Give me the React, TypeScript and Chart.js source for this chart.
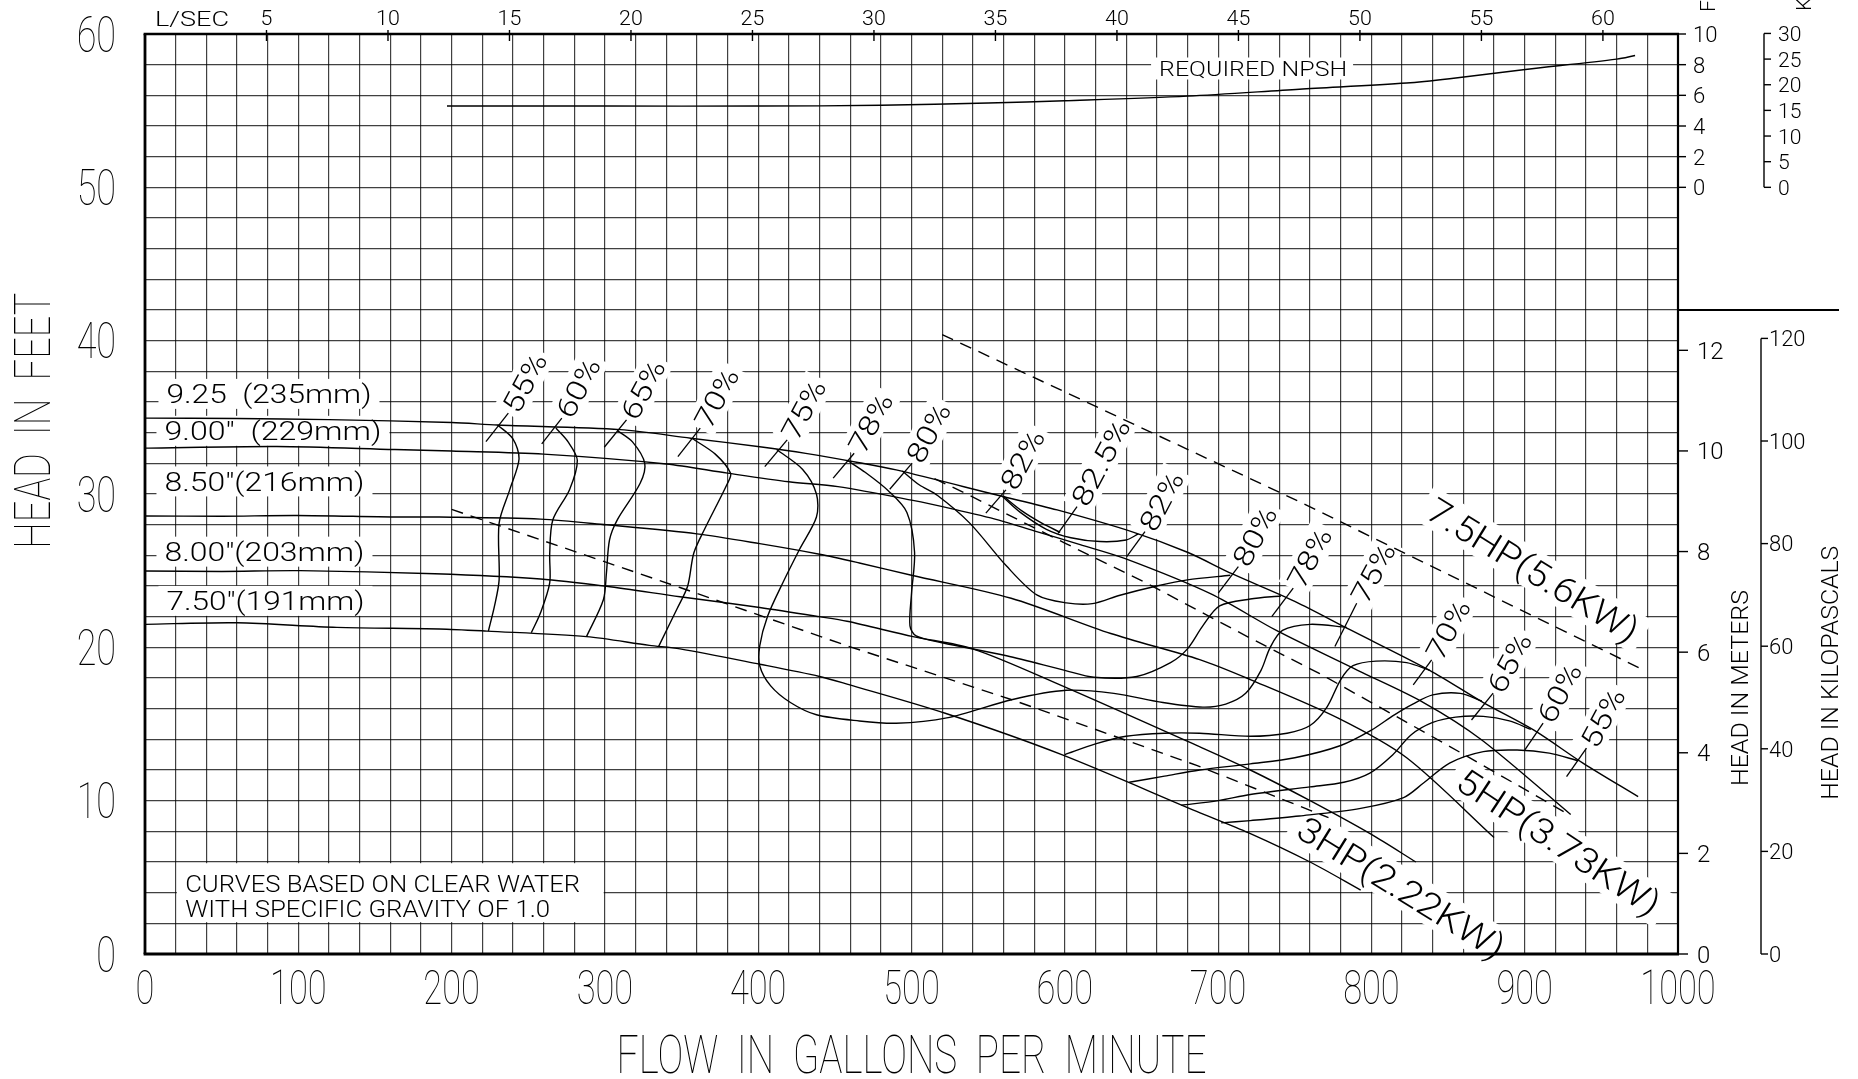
import React, { useEffect, useRef } from "react";
import { Chart, registerables } from "chart.js";

Chart.register(...registerables);

type Pt = [number, number];

const W = 1858;
const H = 1079;
const PLOT_LEFT = 145;
const PLOT_TOP = 34;
const PLOT_RIGHT = 1678;
const PLOT_BOTTOM = 954;

const GPM_PER_LPS = 15.8503;
const FT_PER_M = 3.28084;
const KPA_PER_FT = 2.98898;

// ---- tick labels ----
const FLOW_TICKS = [0, 100, 200, 300, 400, 500, 600, 700, 800, 900, 1000];
const HEAD_TICKS = [0, 10, 20, 30, 40, 50, 60];
const LPS_TICKS = [5, 10, 15, 20, 25, 30, 35, 40, 45, 50, 55, 60];
const METER_TICKS = [0, 2, 4, 6, 8, 10, 12];
const KPA_TICKS = [0, 20, 40, 60, 80, 100, 120];
const NPSH_FT_TICKS = [0, 2, 4, 6, 8, 10];
const NPSH_KPA_TICKS = [0, 5, 10, 15, 20, 25, 30];

// ---- impeller head curves (gpm, ft) ----
const IMP_925: Pt[] = [[0, 34.95], [60, 34.92], [120, 34.85], [200, 34.66], [230, 34.5], [310, 34.2], [356, 33.64], [401, 33.08], [431, 32.65], [466, 32.04], [490, 31.57], [557, 29.9], [595, 28.96], [645, 27.5], [680, 26.2], [709, 24.8], [750, 23.0], [786, 21.15], [838, 18.5], [873, 16.4], [906, 14.6], [938, 12.45], [974, 10.26]];
const IMP_900: Pt[] = [[0, 32.99], [86, 33.1], [163, 32.9], [200, 32.8], [260, 32.6], [340, 31.96], [380, 31.36], [420, 30.8], [452, 30.48], [500, 29.6], [528, 29.0], [557, 28.3], [580, 27.6], [610, 26.7], [639, 25.8], [695, 23.5], [738, 21.1], [791, 18.5], [834, 16.4], [872, 13.96], [930, 9.1]];
const IMP_850: Pt[] = [[0, 28.57], [50, 28.55], [99, 28.6], [163, 28.5], [192, 28.5], [258, 28.36], [301, 27.99], [360, 27.4], [401, 26.76], [440, 26.07], [466, 25.5], [500, 24.7], [565, 23.2], [630, 20.9], [688, 19.2], [721, 17.9], [778, 15.4], [823, 12.8], [880, 7.6]];
const IMP_800: Pt[] = [[0, 24.98], [50, 24.95], [101, 25.0], [189, 24.8], [258, 24.46], [301, 23.98], [349, 23.3], [401, 22.6], [440, 22.0], [458, 21.7], [501, 20.7], [540, 19.9], [598, 17.5], [686, 13.6], [721, 12.0], [760, 10.0], [800, 7.8], [829, 6.0]];
const IMP_750: Pt[] = [[0, 21.5], [60, 21.6], [125, 21.3], [192, 21.2], [223, 21.06], [288, 20.7], [329, 20.13], [349, 19.9], [401, 18.9], [440, 18.1], [458, 17.6], [522, 15.7], [598, 13.0], [686, 9.3], [720, 7.9], [760, 6.0], [793, 4.17]];

// ---- efficiency contours (gpm, ft) ----
const EFF_55_L: Pt[] = [[230, 34.5], [240, 33.6], [244, 32.3], [238, 30.3], [231, 28.1], [231, 24.4], [228, 22.7], [224, 21.06]];
const EFF_60_L: Pt[] = [[268, 34.3], [276, 33.4], [282, 32.2], [277, 30.3], [266, 28.3], [264, 26.1], [264, 24.2], [258, 22.25], [252, 20.95]];
const EFF_65_L: Pt[] = [[308, 34.15], [318, 33.4], [326, 32.0], [323, 30.7], [308, 28.3], [303, 27.0], [301, 24.85], [299, 23.1], [288, 20.7]];
const EFF_70_L: Pt[] = [[357, 33.62], [372, 32.6], [382, 31.35], [380, 30.7], [365, 27.7], [358, 26.15], [354, 24.0], [347, 22.5], [335, 20.05]];
const EFF_75: Pt[] = [[412, 32.9], [429, 31.6], [438, 30.0], [438, 28.5], [427, 26.4], [416, 24.2], [406, 22.0], [401, 20.1], [401, 18.8], [408, 17.5], [421, 16.4], [438, 15.6], [466, 15.2], [490, 15.05], [523, 15.4], [566, 16.6], [601, 17.2], [632, 17.0], [664, 16.4], [690, 16.1], [705, 16.3], [718, 17.0], [728, 18.5], [734, 20.0], [742, 21.1], [760, 21.5], [784, 21.3]];
const EFF_78: Pt[] = [[458, 32.2], [470, 31.4], [485, 30.2], [497, 28.8], [502, 26.2], [500, 23.5], [499, 21.4], [503, 20.75], [520, 20.3], [562, 19.45], [600, 18.5], [619, 18.05], [647, 18.1], [669, 19.0], [680, 19.9], [690, 21.4], [701, 22.7], [721, 23.15], [741, 23.35]];
const EFF_80: Pt[] = [[494, 31.5], [505, 30.6], [517, 29.9], [538, 28.1], [562, 25.3], [582, 23.4], [601, 22.9], [618, 22.85], [636, 23.4], [660, 24.0], [680, 24.4], [708, 24.7]];
const EFF_82: Pt[] = [[559, 29.87], [571, 28.8], [588, 27.7], [604, 27.15], [623, 26.9], [640, 27.0], [648, 27.4]];
const EFF_825: Pt[] = [[560, 29.85], [572, 28.9], [585, 28.1], [597, 27.5]];
const EFF_70_R: Pt[] = [[600, 13.0], [620, 13.7], [640, 14.2], [665, 14.4], [688, 14.4], [721, 14.2], [745, 14.4], [760, 14.9], [771, 16.1], [780, 17.9], [788, 18.8], [803, 19.1], [823, 19.0], [838, 18.5]];
const EFF_65_R: Pt[] = [[642, 11.2], [665, 11.6], [688, 12.0], [721, 12.4], [750, 12.8], [780, 13.6], [800, 14.6], [815, 15.6], [827, 16.3], [840, 16.9], [858, 17.0], [872, 16.5]];
const EFF_60_R: Pt[] = [[676, 9.7], [700, 10.0], [721, 10.4], [760, 10.9], [782, 11.2], [799, 11.8], [814, 13.0], [826, 14.3], [840, 15.1], [855, 15.45], [873, 15.5], [890, 15.2], [904, 14.65]];
const EFF_55_R: Pt[] = [[702, 8.55], [721, 8.7], [753, 9.0], [793, 9.5], [821, 10.2], [834, 11.15], [851, 12.45], [873, 13.2], [895, 13.3], [916, 13.1], [935, 12.6]];

// ---- horsepower lines (gpm, ft) ----
const HP_3: Pt[] = [[200, 29.0], [349, 23.9], [458, 20.1], [565, 16.6], [686, 12.3], [772, 8.9]];
const HP_5: Pt[] = [[515, 31.0], [534, 30.1], [600, 26.8], [653, 24.2], [721, 20.6], [766, 18.3], [850, 13.6], [927, 9.2]];
const HP_75: Pt[] = [[520, 40.4], [753, 29.5], [976, 18.6]];

// ---- required NPSH (gpm, NPSH ft) ----
const NPSH_REQ: Pt[] = [[197, 5.3], [300, 5.3], [400, 5.3], [480, 5.35], [550, 5.5], [600, 5.65], [680, 5.95], [753, 6.4], [823, 6.8], [851, 7.08], [899, 7.67], [960, 8.36], [972, 8.6]];

const CURVES: { pts: Pt[]; dash?: boolean; axis?: string }[] = [
  { pts: IMP_925 }, { pts: IMP_900 }, { pts: IMP_850 }, { pts: IMP_800 }, { pts: IMP_750 },
  { pts: EFF_55_L }, { pts: EFF_60_L }, { pts: EFF_65_L }, { pts: EFF_70_L },
  { pts: EFF_75 }, { pts: EFF_78 }, { pts: EFF_80 }, { pts: EFF_82 }, { pts: EFF_825 },
  { pts: EFF_70_R }, { pts: EFF_65_R }, { pts: EFF_60_R }, { pts: EFF_55_R },
  { pts: HP_3, dash: true }, { pts: HP_5, dash: true }, { pts: HP_75, dash: true },
  { pts: NPSH_REQ, axis: "yN" },
];

// ---- annotations ----
const IMP_LABELS = [
  { t: "9.25  (235mm)", gpm: 14.0, ft: 36.53, w: 205 },
  { t: '9.00"  (229mm)', gpm: 12.7, ft: 34.12, w: 217 },
  { t: '8.50"(216mm)', gpm: 12.7, ft: 30.82, w: 200 },
  { t: '8.00"(203mm)', gpm: 12.7, ft: 26.24, w: 200 },
  { t: '7.50"(191mm)', gpm: 14.0, ft: 23.03, w: 198 },
];

const EFF_LABELS: { t: string; a: Pt; b: Pt }[] = [
  { t: "55%", a: [222.4, 33.42], b: [237.0, 35.27] },
  { t: "60%", a: [258.8, 33.27], b: [271.9, 34.95] },
  { t: "65%", a: [299.6, 33.05], b: [314.1, 34.83] },
  { t: "70%", a: [347.6, 32.44], b: [362.2, 34.29] },
  { t: "75%", a: [404.3, 31.79], b: [418.9, 33.53] },
  { t: "78%", a: [448.9, 31.03], b: [462.6, 32.66] },
  { t: "80%", a: [485.8, 30.31], b: [500.4, 32.01] },
  { t: "82%", a: [548.5, 28.75], b: [561.6, 30.27] },
  { t: "82.5%", a: [595.6, 27.44], b: [608.0, 29.18] },
  { t: "82%", a: [640.4, 25.92], b: [652.3, 27.55] },
  { t: "80%", a: [700.1, 23.53], b: [713.2, 25.26] },
  { t: "78%", a: [735.0, 22.0], b: [749.0, 23.86] },
  { t: "75%", a: [776.2, 20.05], b: [790.4, 22.88] },
  { t: "70%", a: [827.3, 17.55], b: [839.3, 19.18] },
  { t: "65%", a: [865.3, 15.26], b: [879.4, 17.01] },
  { t: "60%", a: [900.1, 13.31], b: [912.0, 15.05] },
  { t: "55%", a: [927.3, 11.57], b: [940.3, 13.42] },
];

const HP_LABELS = [
  { t: "7.5HP(5.6KW)", at: [905.6, 25.05] as Pt, deg: 31.7, w: 241 },
  { t: "5HP(3.73KW)", at: [922.3, 7.31] as Pt, deg: 33.5, w: 236 },
  { t: "3HP(2.22KW)", at: [819.6, 4.34] as Pt, deg: 31.8, w: 237 },
];

const NPSH_LABEL = { t: "REQUIRED NPSH", gpm: 661.5, ft: 57.75, w: 188 };
const NOTE_LINES = [
  { t: "CURVES BASED ON CLEAR WATER", gpm: 26.2, ft: 4.61, w: 395 },
  { t: "WITH SPECIFIC GRAVITY OF 1.0", gpm: 26.2, ft: 2.98, w: 365 },
];
const NOTE_BOX = { g0: 20, g1: 300, f0: 2, f1: 6 };

// ---- drawing helpers ----
const FONT_FAMILY = "Roboto, 'Liberation Sans', 'DejaVu Sans', sans-serif";
const CAP_RATIO = 0.711;
const EFF_CAP = 20;
const EFF_TEXT_ANGLE = (-62 * Math.PI) / 180;
const HP_CAP = 25;

function setFont(ctx: CanvasRenderingContext2D, cap: number, weight: number) {
  ctx.font = `${weight} ${(cap / CAP_RATIO).toFixed(2)}px ${FONT_FAMILY}`;
}

function txt(
  ctx: CanvasRenderingContext2D,
  s: string,
  x: number,
  y: number,
  cap: number,
  opt: { w?: number; sx?: number; ang?: number; align?: CanvasTextAlign; weight?: number } = {}
) {
  ctx.save();
  setFont(ctx, cap, opt.weight ?? 300);
  const w0 = ctx.measureText(s).width;
  const sx = opt.w ? opt.w / w0 : opt.sx ?? 1;
  ctx.translate(x, y);
  if (opt.ang) ctx.rotate(opt.ang);
  ctx.scale(sx, 1);
  ctx.textAlign = opt.align ?? "center";
  ctx.textBaseline = "alphabetic";
  ctx.fillStyle = "#000";
  ctx.fillText(s, 0, cap / 2);
  ctx.restore();
}

function line(ctx: CanvasRenderingContext2D, x1: number, y1: number, x2: number, y2: number, lw = 1.4) {
  ctx.save();
  ctx.strokeStyle = "#000";
  ctx.lineWidth = lw;
  ctx.beginPath();
  ctx.moveTo(x1, y1);
  ctx.lineTo(x2, y2);
  ctx.stroke();
  ctx.restore();
}

function rotRect(ctx: CanvasRenderingContext2D, cx: number, cy: number, w: number, h: number, ang: number) {
  ctx.save();
  ctx.translate(cx, cy);
  ctx.rotate(ang);
  ctx.fillRect(-w / 2, -h / 2, w, h);
  ctx.restore();
}

function effGeom(chart: any, L: { t: string; a: Pt; b: Pt }) {
  const xs = chart.scales.x;
  const ys = chart.scales.y;
  const ax = xs.getPixelForValue(L.a[0]);
  const ay = ys.getPixelForValue(L.a[1]);
  const bx = xs.getPixelForValue(L.b[0]);
  const by = ys.getPixelForValue(L.b[1]);
  const ang = EFF_TEXT_ANGLE;
  const len = L.t.length > 3 ? 94 : 63;
  const d = 3 + len / 2;
  return { ax, ay, bx, by, ang, len, cx: bx + Math.cos(ang) * d, cy: by + Math.sin(ang) * d };
}

const decorPlugin = {
  id: "pumpDecor",
  beforeDatasetsDraw(chart: any) {
    const { ctx } = chart;
    const xs = chart.scales.x;
    const ys = chart.scales.y;
    ctx.save();
    ctx.fillStyle = "#fff";
    for (const L of IMP_LABELS) {
      const lx = xs.getPixelForValue(L.gpm);
      const cy = ys.getPixelForValue(L.ft);
      ctx.fillRect(lx - 8, cy - 15, L.w + 16, 30);
    }
    const bx0 = xs.getPixelForValue(NOTE_BOX.g0) + 1.2;
    const bx1 = xs.getPixelForValue(NOTE_BOX.g1) - 1.2;
    const by0 = ys.getPixelForValue(NOTE_BOX.f1) + 1.2;
    const by1 = ys.getPixelForValue(NOTE_BOX.f0) - 1.2;
    ctx.fillRect(bx0, by0, bx1 - bx0, by1 - by0);
    for (const L of EFF_LABELS) {
      const g = effGeom(chart, L);
      rotRect(ctx, g.cx, g.cy, g.len + 8, EFF_CAP + 12, g.ang);
    }
    for (const L of HP_LABELS) {
      const cx = xs.getPixelForValue(L.at[0]);
      const cy = ys.getPixelForValue(L.at[1]);
      rotRect(ctx, cx, cy, L.w + 16, HP_CAP + 14, (L.deg * Math.PI) / 180);
    }
    {
      const lx = xs.getPixelForValue(NPSH_LABEL.gpm);
      const cy = ys.getPixelForValue(NPSH_LABEL.ft);
      ctx.fillRect(lx - 8, cy - 11, NPSH_LABEL.w + 14, 22);
    }
    ctx.restore();
  },
  afterDatasetsDraw(chart: any) {
    const { ctx, chartArea } = chart;
    const xs = chart.scales.x;
    const ys = chart.scales.y;
    const { left, right, top, bottom } = chartArea;

    // frame
    line(ctx, left, top, left, bottom, 2.8);
    line(ctx, left - 1.4, bottom, right + 1, bottom, 2.8);
    line(ctx, left - 1.4, top, right + 1, top, 2.4);
    line(ctx, right, top, right, bottom, 2.2);

    // impeller labels
    for (const L of IMP_LABELS) {
      txt(ctx, L.t, xs.getPixelForValue(L.gpm), ys.getPixelForValue(L.ft), 18.5, { w: L.w, align: "left" });
    }
    // efficiency labels
    for (const L of EFF_LABELS) {
      const g = effGeom(chart, L);
      line(ctx, g.ax, g.ay, g.bx, g.by, 1.3);
      txt(ctx, L.t, g.cx, g.cy, EFF_CAP, { w: g.len, ang: g.ang });
    }
    // HP labels
    for (const L of HP_LABELS) {
      txt(ctx, L.t, xs.getPixelForValue(L.at[0]), ys.getPixelForValue(L.at[1]), HP_CAP, {
        w: L.w,
        ang: (L.deg * Math.PI) / 180,
      });
    }
    // NPSH label
    txt(ctx, NPSH_LABEL.t, xs.getPixelForValue(NPSH_LABEL.gpm), ys.getPixelForValue(NPSH_LABEL.ft), 15, {
      w: NPSH_LABEL.w,
      align: "left",
    });
    // note
    for (const L of NOTE_LINES) {
      txt(ctx, L.t, xs.getPixelForValue(L.gpm), ys.getPixelForValue(L.ft), 16.7, { w: L.w, align: "left" });
    }

    // left tick labels
    for (const v of HEAD_TICKS) {
      txt(ctx, String(v), left - 29, ys.getPixelForValue(v), 35.5, { sx: 0.72, align: "right", weight: 100 });
    }
    // bottom tick labels
    for (const v of FLOW_TICKS) {
      txt(ctx, String(v), xs.getPixelForValue(v), bottom + 33, 34, { sx: 0.72, weight: 100 });
    }
    txt(ctx, "FLOW  IN  GALLONS  PER  MINUTE", (left + right) / 2, bottom + 99.5, 38, { w: 590, weight: 100 });
    txt(ctx, "HEAD  IN  FEET", 32, 420.7, 35.5, { w: 256, ang: -Math.PI / 2, weight: 100 });

    // top L/s scale
    for (const v of LPS_TICKS) {
      const px = xs.getPixelForValue(v * GPM_PER_LPS);
      line(ctx, px, top - 4, px, top + 7, 1.4);
      txt(ctx, String(v), px, 18, 14.5, { sx: 1.05 });
    }
    txt(ctx, "L/SEC", 155, 18, 15, { w: 74, align: "left" });

    // right scales
    const yN = chart.scales.yN;
    const yM = chart.scales.yM;
    const yK = chart.scales.yK;
    const yNK = chart.scales.yNK;
    for (const v of NPSH_FT_TICKS) {
      const py = yN.getPixelForValue(v);
      line(ctx, right, py, right + 8, py, 1.4);
      txt(ctx, String(v), right + 15, py, 15.7, { align: "left" });
    }
    for (const v of METER_TICKS) {
      const py = yM.getPixelForValue(v);
      line(ctx, right, py, right + 10, py, 1.4);
      txt(ctx, String(v), right + 19, py, 17, { align: "left" });
    }
    const sepY = ys.getPixelForValue(42);
    line(ctx, right, sepY, 1839, sepY, 2);

    const KX = 1761;
    line(ctx, KX, yK.getPixelForValue(0), KX, yK.getPixelForValue(120), 1.4);
    for (const v of KPA_TICKS) {
      const py = yK.getPixelForValue(v);
      line(ctx, KX, py, KX + 7, py, 1.4);
      txt(ctx, String(v), KX + 8, py, 15.6, { align: "left" });
    }
    const NKX = 1764;
    line(ctx, NKX, yNK.getPixelForValue(0), NKX, yNK.getPixelForValue(30), 1.4);
    for (const v of NPSH_KPA_TICKS) {
      const py = yNK.getPixelForValue(v);
      line(ctx, NKX, py, NKX + 7, py, 1.4);
      txt(ctx, String(v), NKX + 14, py, 15, { align: "left" });
    }
    txt(ctx, "HEAD IN METERS", 1740, 688, 16.5, { w: 196, ang: -Math.PI / 2 });
    txt(ctx, "HEAD IN KILOPASCALS", 1830, 672.7, 16.5, { w: 254, ang: -Math.PI / 2 });
    txt(ctx, "FEET", 1707.5, 12, 15, { ang: -Math.PI / 2, align: "left" });
    txt(ctx, "KILOPASCALS", 1803.5, 11, 15, { ang: -Math.PI / 2, align: "left" });
  },
};

const gridOpts = { color: "rgba(0,0,0,0.75)", lineWidth: 1.2, drawTicks: false };

export default function App() {
  const ref = useRef<HTMLCanvasElement>(null);

  useEffect(() => {
    const canvas = ref.current;
    if (!canvas) return;
    const datasets = CURVES.map((c) => ({
      data: c.pts.map(([gx, hy]) => ({ x: gx, y: hy })),
      yAxisID: c.axis ?? "y",
      showLine: true,
      borderColor: "#000",
      borderWidth: 1.4,
      borderDash: c.dash ? [12, 8] : [],
      pointRadius: 0,
      pointHoverRadius: 0,
      tension: c.dash ? 0 : 0.3,
      fill: false,
    }));
    const chart = new Chart(canvas, {
      type: "scatter",
      data: { datasets },
      options: {
        responsive: false,
        animation: false,
        devicePixelRatio: 1,
        events: [],
        layout: { padding: { top: PLOT_TOP, right: W - PLOT_RIGHT, left: 0, bottom: 0 } },
        plugins: { legend: { display: false }, tooltip: { enabled: false } },
        scales: {
          x: {
            type: "linear",
            position: "bottom",
            min: 0,
            max: 1000,
            afterFit: (s: any) => {
              s.height = H - PLOT_BOTTOM;
            },
            ticks: { display: false, stepSize: 20, maxTicksLimit: 100, autoSkip: false },
            grid: gridOpts,
            border: { display: false },
          },
          y: {
            type: "linear",
            position: "left",
            min: 0,
            max: 60,
            afterFit: (s: any) => {
              s.width = PLOT_LEFT;
            },
            ticks: { display: false, stepSize: 2, maxTicksLimit: 100, autoSkip: false },
            grid: gridOpts,
            border: { display: false },
          },
          yN: { type: "linear", position: "right", min: -50, max: 10, display: false },
          yM: { type: "linear", position: "right", min: 0, max: 60 / FT_PER_M, display: false },
          yK: { type: "linear", position: "right", min: 0, max: 60 * KPA_PER_FT, display: false },
          yNK: { type: "linear", position: "right", min: -50 * KPA_PER_FT, max: 10 * KPA_PER_FT, display: false },
        },
      } as any,
      plugins: [decorPlugin],
    });
    return () => chart.destroy();
  }, []);

  return (
    <div style={{ position: "fixed", left: 0, top: 0, width: W, height: H, background: "#fff" }}>
      <canvas ref={ref} width={W} height={H} style={{ display: "block", width: W, height: H }} />
    </div>
  );
}
